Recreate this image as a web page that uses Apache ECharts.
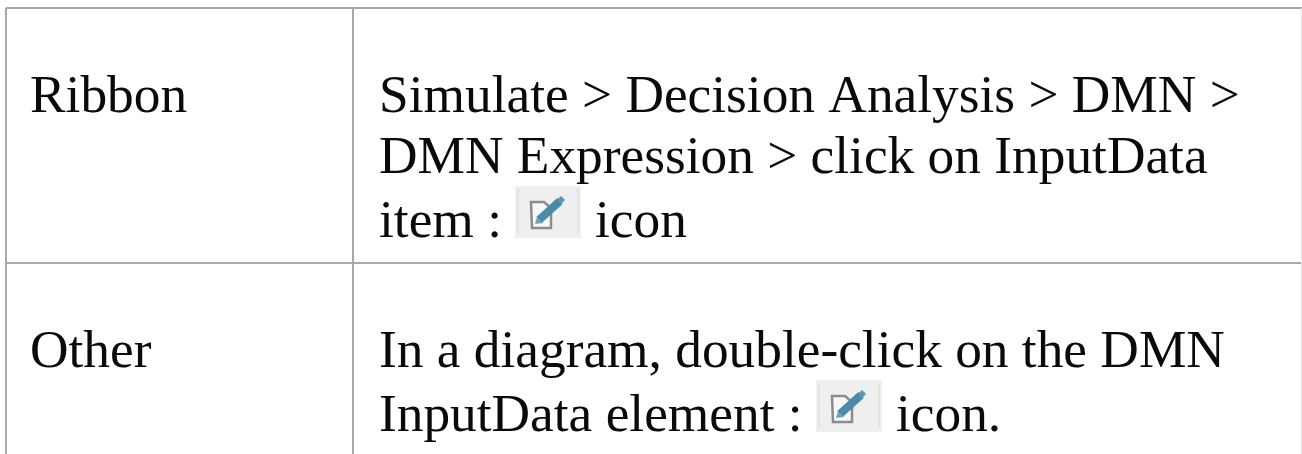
<!DOCTYPE html>
<html><head><meta charset="utf-8">
<style>html,body{margin:0;padding:0;background:#fff}#c{width:1302px;height:454px;filter:blur(0.45px)}</style>
<script src="https://cdn.jsdelivr.net/npm/echarts@6/dist/echarts.min.js"></script>
</head><body><div id="c"></div>
<script>
var rowLabels = ['Ribbon', 'Other'];
var ribbonLines = ['Simulate > Decision Analysis > DMN >', 'DMN Expression > click on InputData', 'item :', 'icon'];
var otherLines = ['In a diagram, double-click on the DMN', 'InputData element :', 'icon.'];

var FONT = '"Liberation Serif","Times New Roman",serif';
var SIZE = 53.35;
function txt(s, x, base) {
  return {type:'text', x:x, y:base-43, style:{text:s, font:SIZE+'px '+FONT, fill:'#0a0a0a'}};
}
function line(x1,y1,x2,y2,c) {
  return {type:'line', shape:{x1:x1,y1:y1,x2:x2,y2:y2}, style:{stroke:c||'#a9a9a9', lineWidth:2}};
}
function icon(x,y) {
  return {type:'group', x:x, y:y, children:[
    {type:'rect', shape:{x:0,y:0,width:66,height:52}, style:{fill:'#efefef'}},
    {type:'rect', shape:{x:2,y:3,width:2,height:44}, style:{fill:'#e2e2e2'}},
    {type:'rect', shape:{x:62,y:3,width:2,height:44}, style:{fill:'#e2e2e2'}},
    {type:'polygon', shape:{points:[[16,16],[29,16],[36,22],[36,42],[17,42]]}, style:{fill:'#f7f7f7', stroke:'#8c8c8c', lineWidth:2.5}},
    {type:'polyline', shape:{points:[[24,34],[45,15]]}, style:{stroke:'#4a8aa8', lineWidth:8}},
    {type:'polygon', shape:{points:[[20,38],[22,31],[28,37]]}, style:{fill:'#6fa3ba'}},
    {type:'polyline', shape:{points:[[44,16],[48,12]]}, style:{stroke:'#5b97b2', lineWidth:6}}
  ]};
}
var els = [
  line(6,8,1302,8), line(6,8,6,454), line(353,8,353,454), line(6,263,1302,263),
  {type:'line', shape:{x1:1301.5,y1:8,x2:1301.5,y2:454}, style:{stroke:'#e6e6e6', lineWidth:1}},
  txt(rowLabels[0],30,114), txt(rowLabels[1],30,369),
  txt(ribbonLines[0],379,114), txt(ribbonLines[1],379,175), txt(ribbonLines[2],379,239), txt(ribbonLines[3],595,239),
  txt(otherLines[0],379,369), txt(otherLines[1],379,433), txt(otherLines[2],896,433),
  icon(515,186), icon(816,380)
];
var chart = echarts.init(document.getElementById('c'), null, {renderer:'canvas'});
chart.setOption({animation:false, backgroundColor:'#fff', graphic:{elements:els}});
</script></body></html>
